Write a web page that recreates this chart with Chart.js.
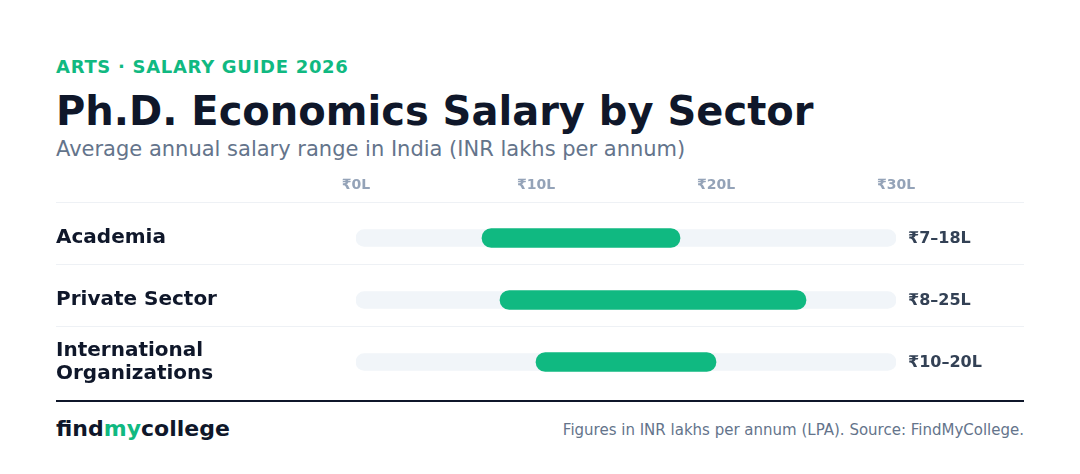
<!DOCTYPE html>
<html>
<head>
<meta charset="utf-8">
<script src="https://cdn.jsdelivr.net/npm/chart.js@4.4.1/dist/chart.umd.min.js"></script>
<style>
  html, body { margin: 0; padding: 0; background: #ffffff; }
  body { width: 1080px; height: 474px; position: relative; overflow: hidden; font-family: "DejaVu Sans", sans-serif; }
  .txt { position: absolute; white-space: nowrap; }
  .eyebrow { left: 56px; top: 58px; font-size: 18px; line-height: 18px; font-weight: bold; color: #10b981; letter-spacing: 0.7px; }
  .title { left: 56px; top: 91px; font-size: 40px; line-height: 40px; font-weight: bold; color: #0f172a; }
  .subtitle { left: 56px; top: 139px; font-size: 21px; line-height: 21px; color: #64748b; }
  #chartWrap { position: absolute; left: 56px; top: 171px; width: 968px; height: 222px; }
  .footline { position: absolute; left: 56px; top: 400px; width: 968px; height: 2px; background: #0f172a; }
  .brand { left: 56px; top: 418px; font-size: 22px; line-height: 22px; font-weight: bold; color: #0f172a; }
  .brand span { color: #10b981; }
  .note { right: 56px; top: 423px; font-size: 15px; line-height: 15px; color: #64748b; }
</style>
</head>
<body>
<div class="txt eyebrow">ARTS · SALARY GUIDE 2026</div>
<div class="txt title">Ph.D. Economics Salary by Sector</div>
<div class="txt subtitle">Average annual salary range in India (INR lakhs per annum)</div>
<div id="chartWrap"><canvas id="salaryChart"></canvas></div>
<div class="footline"></div>
<div class="txt brand">find<span>my</span>college</div>
<div class="txt note">Figures in INR lakhs per annum (LPA). Source: FindMyCollege.</div>

<script>
// Chart Data
const sectors = [['Academia'], ['Private Sector'], ['International', 'Organizations']];
const salaryMin = [7, 8, 10];
const salaryMax = [18, 25, 20];
const axisTicks = [0, 10, 20, 30];
const axisMax = 30;

const green = '#10b981';
const trackColor = '#f1f5f9';
const lineColor = '#eef1f5';

// row separators + value labels on the right
const rowDecor = {
    id: 'rowDecor',
    beforeDatasetsDraw(chart) {
        const ctx = chart.ctx;
        const y = chart.scales.y;
        const band = (y.getPixelForValue(1) - y.getPixelForValue(0));
        ctx.save();
        ctx.strokeStyle = lineColor;
        ctx.lineWidth = 1;
        for (let i = 0; i < sectors.length; i++) {
            const py = Math.round(y.getPixelForValue(i) - band / 2 - 5) + 0.5;
            ctx.beginPath();
            ctx.moveTo(0, py);
            ctx.lineTo(chart.width, py);
            ctx.stroke();
        }
        ctx.restore();
    },
    afterDatasetsDraw(chart) {
        const ctx = chart.ctx;
        const y = chart.scales.y;
        ctx.save();
        ctx.font = 'bold 16px "DejaVu Sans"';
        ctx.fillStyle = '#334155';
        ctx.textAlign = 'left';
        ctx.textBaseline = 'middle';
        for (let i = 0; i < sectors.length; i++) {
            ctx.fillText('₹' + salaryMin[i] + '–' + salaryMax[i] + 'L', chart.chartArea.right + 12, y.getPixelForValue(i) + 1);
        }
        ctx.restore();
    }
};

const salaryChart = new Chart(document.getElementById('salaryChart'), {
    type: 'bar',
    data: {
        labels: sectors,
        datasets: [
            {
                label: 'Range',
                data: salaryMin.map((v, i) => [v, salaryMax[i]]),
                backgroundColor: green,
                borderRadius: 10,
                borderSkipped: false,
                barThickness: 19,
                grouped: false,
                order: 1
            },
            {
                label: 'Track',
                data: sectors.map(() => [0, axisMax]),
                backgroundColor: trackColor,
                borderRadius: 9,
                borderSkipped: false,
                barThickness: 17,
                grouped: false,
                order: 2
            }
        ]
    },
    options: {
        indexAxis: 'y',
        responsive: true,
        maintainAspectRatio: false,
        animation: false,
        layout: { padding: { left: 0, right: 128, top: 0, bottom: 0 } },
        scales: {
            x: {
                position: 'top',
                min: 0,
                max: axisMax,
                afterBuildTicks(scale) {
                    scale.ticks = axisTicks.map(v => ({ value: v }));
                },
                afterFit(scale) { scale.height = 36; },
                grid: { display: false, drawTicks: false },
                border: { display: false },
                ticks: {
                    padding: 13,
                    color: '#94a3b8',
                    font: { family: 'DejaVu Sans', size: 14, weight: 'bold' },
                    callback: v => '₹' + v + 'L'
                }
            },
            y: {
                afterFit(scale) {
                    scale.width = 300;
                    scale.paddingTop = 0;
                    scale.paddingBottom = 0;
                },
                grid: { display: false, drawTicks: false },
                border: { display: false },
                ticks: {
                    crossAlign: 'far',
                    padding: 0,
                    color: '#0f172a',
                    font: { family: 'DejaVu Sans', size: 20, weight: 'bold', lineHeight: 1.15 }
                }
            }
        },
        plugins: {
            legend: { display: false },
            tooltip: { enabled: false }
        }
    },
    plugins: [rowDecor]
});
</script>
</body>
</html>
